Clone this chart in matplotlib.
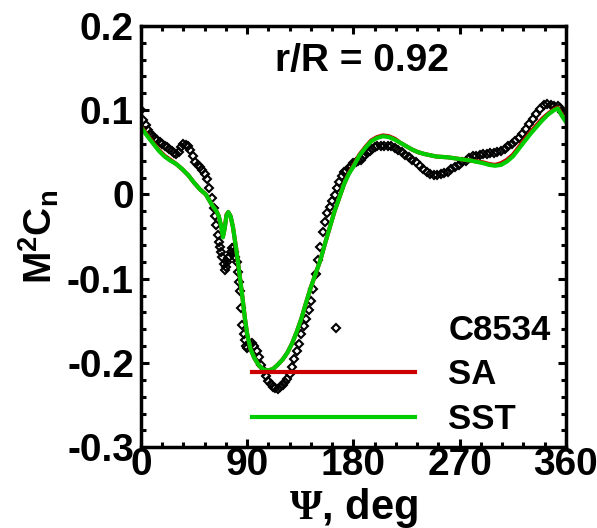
import matplotlib
matplotlib.use('Agg')
import matplotlib.pyplot as plt
from matplotlib.lines import Line2D

plt.rcParams['font.family'] = ['Liberation Sans', 'DejaVu Sans']
plt.rcParams['font.weight'] = 'bold'
plt.rcParams['axes.labelweight'] = 'bold'
plt.rcParams['mathtext.fontset'] = 'custom'
plt.rcParams['mathtext.rm'] = 'Liberation Sans:bold'
plt.rcParams['mathtext.it'] = 'Liberation Sans:bold'
plt.rcParams['mathtext.bf'] = 'Liberation Sans:bold'
plt.rcParams['mathtext.sf'] = 'Liberation Serif'

# experiment C8534 (psi in deg, M^2 Cn)
exp_psi = [0, 2, 4, 6, 8, 10, 12, 14, 16, 18, 20, 22, 24, 26, 28, 30, 32, 34, 36, 38,
           40, 42, 44, 46, 48, 50, 52, 54, 56, 58, 60, 62, 63, 64, 65, 66, 67, 68, 69, 70,
           71, 72, 73, 74, 75, 76, 77, 78, 79, 80, 81, 82, 83, 84, 85, 86, 87, 88, 89, 90,
           92, 94, 96, 98, 100, 102, 104, 106, 108, 110, 112, 114, 116, 118, 120, 122, 124, 126, 128, 130,
           132, 134, 136, 138, 140, 142, 144, 146, 148, 150, 152, 154, 156, 158, 160, 162, 164, 165, 166, 168,
           170, 172, 174, 176, 178, 180, 182, 184, 186, 188, 190, 192, 194, 196, 198, 200, 203, 206, 209, 212,
           215, 218, 221, 224, 227, 230, 233, 236, 239, 242, 245, 248, 251, 254, 257, 260, 263, 266, 269, 272,
           275, 278, 281, 284, 287, 290, 293, 296, 299, 302, 305, 308, 311, 314, 317, 320, 323, 326, 329, 332,
           335, 338, 341, 344, 347, 350, 353, 355, 357, 359]
exp_cn = [0.100, 0.088, 0.082, 0.077, 0.072, 0.069, 0.066, 0.064, 0.062, 0.060, 0.058, 0.056, 0.054, 0.051, 0.049, 0.048, 0.050, 0.056, 0.060, 0.059,
          0.057, 0.053, 0.045, 0.038, 0.035, 0.032, 0.029, 0.024, 0.018, 0.008, -0.004, -0.016, -0.026, -0.036, -0.048, -0.056, -0.063, -0.068, -0.074, -0.082,
          -0.090, -0.086, -0.080, -0.076, -0.074, -0.068, -0.064, -0.064, -0.068, -0.074, -0.080, -0.092, -0.104, -0.115, -0.135, -0.155, -0.166, -0.173, -0.180, -0.182,
          -0.178, -0.176, -0.180, -0.186, -0.193, -0.202, -0.210, -0.216, -0.221, -0.225, -0.228, -0.230, -0.231, -0.229, -0.226, -0.223, -0.219, -0.213, -0.205, -0.195,
          -0.186, -0.178, -0.166, -0.156, -0.148, -0.137, -0.126, -0.112, -0.095, -0.078, -0.062, -0.045, -0.033, -0.022, -0.015, -0.008, -0.001, -0.159, 0.008, 0.015,
          0.022, 0.026, 0.028, 0.031, 0.034, 0.037, 0.038, 0.040, 0.041, 0.044, 0.047, 0.050, 0.052, 0.054, 0.056, 0.057, 0.058, 0.058, 0.058, 0.057,
          0.055, 0.053, 0.050, 0.047, 0.044, 0.041, 0.038, 0.034, 0.030, 0.027, 0.024, 0.023, 0.023, 0.024, 0.025, 0.027, 0.030, 0.032, 0.035, 0.038,
          0.040, 0.043, 0.045, 0.046, 0.047, 0.048, 0.048, 0.049, 0.049, 0.050, 0.052, 0.054, 0.057, 0.060, 0.063, 0.067, 0.072, 0.078, 0.084, 0.090,
          0.095, 0.101, 0.106, 0.107, 0.106, 0.105, 0.105, 0.103, 0.098, 0.093]

# CFD results
cfd_psi = [0, 5, 10, 15, 20, 25, 30, 35, 40, 45, 50, 55, 60, 64, 66, 68, 69.5, 71, 72.5, 74,
           76, 78, 80, 82, 84, 86, 88, 90, 93, 96, 100, 104, 108, 112, 116, 120, 124, 128, 132, 136,
           140, 144, 148, 152, 156, 160, 164, 168, 172, 176, 180, 185, 190, 195, 200, 205, 210, 215, 220, 225,
           230, 235, 240, 250, 260, 270, 280, 290, 295, 300, 305, 310, 315, 320, 325, 330, 335, 340, 345, 350,
           353, 356, 358, 360]
sst_cn = [0.080, 0.070, 0.061, 0.052, 0.045, 0.040, 0.036, 0.030, 0.023, 0.014, 0.006, 0.000, -0.012, -0.020, -0.026, -0.038, -0.051, -0.040, -0.025, -0.021,
          -0.026, -0.039, -0.058, -0.078, -0.100, -0.122, -0.146, -0.166, -0.184, -0.194, -0.203, -0.208, -0.209, -0.207, -0.202, -0.196, -0.188, -0.177, -0.163, -0.147,
          -0.128, -0.110, -0.094, -0.078, -0.058, -0.039, -0.020, -0.004, 0.012, 0.024, 0.033, 0.046, 0.055, 0.063, 0.067, 0.069, 0.068, 0.065, 0.061, 0.057,
          0.053, 0.050, 0.048, 0.045, 0.044, 0.042, 0.040, 0.037, 0.035, 0.034, 0.035, 0.039, 0.045, 0.054, 0.063, 0.072, 0.080, 0.088, 0.095, 0.100,
          0.102, 0.095, 0.090, 0.086]
sa_cn = [0.081, 0.071, 0.062, 0.053, 0.046, 0.041, 0.036, 0.030, 0.023, 0.014, 0.006, 0.000, -0.012, -0.020, -0.026, -0.038, -0.050, -0.040, -0.024, -0.021,
         -0.026, -0.039, -0.058, -0.078, -0.100, -0.122, -0.146, -0.166, -0.184, -0.194, -0.203, -0.208, -0.209, -0.207, -0.202, -0.196, -0.188, -0.177, -0.163, -0.147,
         -0.128, -0.110, -0.094, -0.078, -0.058, -0.039, -0.020, -0.004, 0.012, 0.025, 0.034, 0.047, 0.056, 0.064, 0.068, 0.070, 0.069, 0.066, 0.061, 0.057,
         0.053, 0.050, 0.048, 0.045, 0.044, 0.042, 0.040, 0.038, 0.036, 0.035, 0.037, 0.041, 0.047, 0.056, 0.065, 0.074, 0.082, 0.090, 0.096, 0.101,
         0.103, 0.096, 0.091, 0.087]

fig = plt.figure(figsize=(5.97, 5.28), dpi=100)
ax = fig.add_axes([0.236, 0.153, 0.712, 0.798])

ax.plot(exp_psi, exp_cn, linestyle='none', marker='D', ms=4.5, mfc='none', mec='black', mew=1.5)
ax.plot(cfd_psi, sa_cn, color='#cc0000', lw=3)
ax.plot(cfd_psi, sst_cn, color='#00cc00', lw=3)

ax.set_xlim(0, 360)
ax.set_ylim(-0.3, 0.2)
ax.set_xticks([0, 90, 180, 270, 360])
ax.set_xticks(range(0, 361, 18), minor=True)
ax.set_yticks([-0.3, -0.2, -0.1, 0, 0.1, 0.2])
ax.set_yticklabels(['-0.3', '-0.2', '-0.1', '0', '0.1', '0.2'])
ax.set_yticks([i * 0.02 - 0.3 for i in range(26)], minor=True)
ax.tick_params(which='both', direction='in', top=True, right=True, width=2.2, labelsize=28)
ax.tick_params(which='major', length=6, pad=0)
ax.tick_params(axis='y', which='major', pad=5)
ax.tick_params(which='minor', length=3.5)
for s in ax.spines.values():
    s.set_linewidth(2.5)

ax.set_xlabel(r'$\mathsf{\Psi}$, deg', fontsize=30, fontweight='bold', labelpad=2)
ax.set_ylabel(r'M$^{2}$C$_{n}$', fontsize=28, fontweight='bold', labelpad=4)
ax.text(0.52, 0.894, 'r/R = 0.92', transform=ax.transAxes, ha='center', fontsize=28)

handles = [Line2D([], [], linestyle='none'),
           Line2D([], [], color='#cc0000', lw=3),
           Line2D([], [], color='#00cc00', lw=3)]
ax.legend(handles, ['C8534', 'SA', 'SST'], loc='lower right', frameon=False, fontsize=25,
          handlelength=4.7, handletextpad=0.95, labelspacing=0.33,
          borderaxespad=0.1, bbox_to_anchor=(1.005, -0.014))

fig.savefig('out.png', dpi=100)
